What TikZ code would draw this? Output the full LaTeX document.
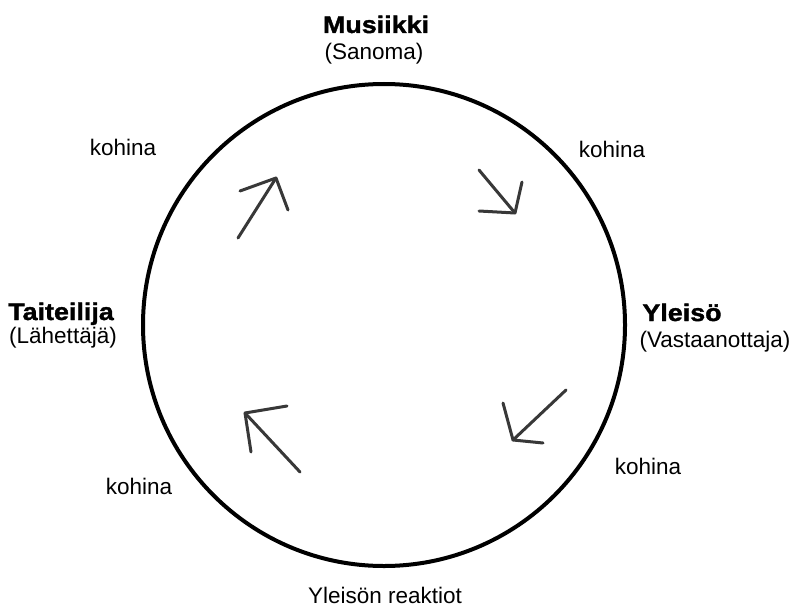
\documentclass[tikz,border=0pt]{standalone}
\usepackage{fontspec}
\setmainfont{Liberation Sans}
\newfontfamily\heavy{Liberation Sans Bold}[FakeStretch=1.12,FakeBold=1.5]
\begin{document}
\begin{tikzpicture}[x=1pt,y=-1pt,
  lbl/.style={font=\fontsize{22.5}{26}\selectfont, inner sep=0pt, anchor=base},
  blbl/.style={font=\fontsize{24}{28}\heavy, inner sep=0pt, anchor=base},
  stroke/.style={line width=3pt, draw=black!78, line cap=round, line join=round}]
\useasboundingbox (0,0) rectangle (794,607);
\node[draw, circle, line width=4pt, minimum size=482pt, inner sep=0pt] (ring) at (384,325) {};
% labels
\node[blbl] (mus) at (376,33) {Musiikki};
\node[lbl] (san) at (374,60) {(Sanoma)};
\node[blbl] (tai) at (61,320) {Taiteilija};
\node[lbl] (lah) at (63,343) {(Lähettäjä)};
\node[blbl] (yle) at (682,321) {Yleisö};
\node[lbl] (vas) at (715,347) {(Vastaanottaja)};
\node[lbl] (rea) at (385,603) {Yleisön reaktiot};
\node[lbl] (k1) at (123,155) {kohina};
\node[lbl] (k2) at (612,157) {kohina};
\node[lbl] (k3) at (648,474) {kohina};
\node[lbl] (k4) at (139,494) {kohina};
% arrow 1 (up-right)
\coordinate (a1t) at (238,238); \coordinate (a1p) at (276,178);
\coordinate (a1l) at (240,191); \coordinate (a1r) at (288,210);
% arrow 2 (down-right)
\coordinate (a2t) at (479,170); \coordinate (a2p) at (515,213);
\coordinate (a2l) at (479,211); \coordinate (a2r) at (522,182);
% arrow 3 (down-left)
\coordinate (a3t) at (566,390); \coordinate (a3p) at (513,440);
\coordinate (a3l) at (503,403); \coordinate (a3r) at (543,443);
% arrow 4 (up-left)
\coordinate (a4t) at (300,472); \coordinate (a4p) at (245,413);
\coordinate (a4l) at (287,406); \coordinate (a4r) at (251,452);
\foreach \i in {1,2,3,4}{
  \draw[stroke] (a\i t) -- (a\i p);
  \draw[stroke] (a\i l) -- (a\i p) -- (a\i r);
}
\end{tikzpicture}
\end{document}
